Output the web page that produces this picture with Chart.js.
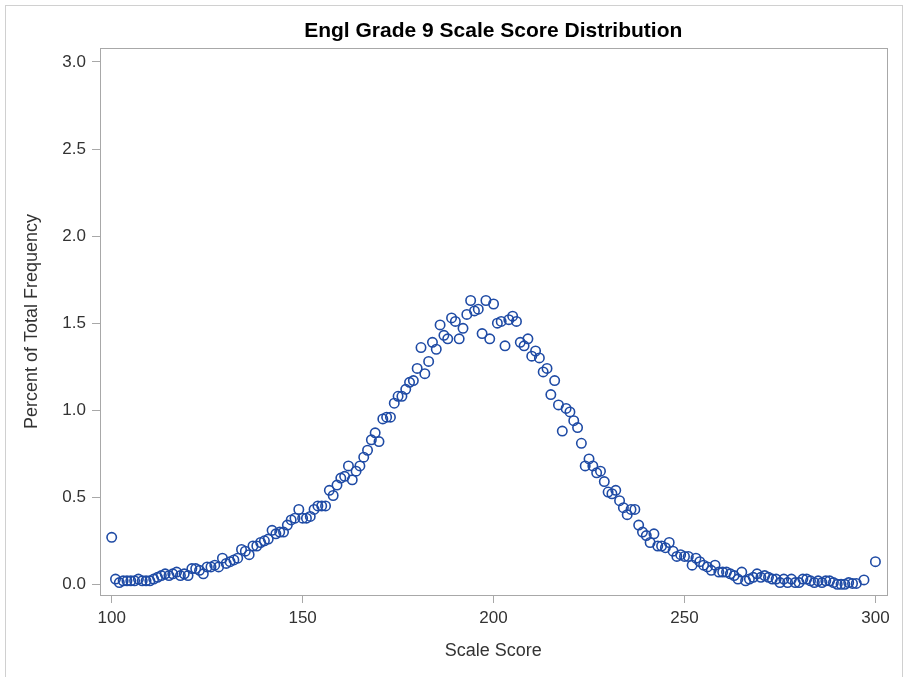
<!DOCTYPE html>
<html>
<head>
<meta charset="utf-8">
<title>Engl Grade 9 Scale Score Distribution</title>
<script src="https://cdn.jsdelivr.net/npm/chart.js@4.4.1/dist/chart.umd.min.js"></script>
<style>
  html, body { margin: 0; padding: 0; background: #fff; overflow: hidden; }
  #frame {
    position: absolute; left: 5px; top: 5px; width: 898px; height: 700px;
    border: 1px solid #d0d0d0; box-sizing: border-box;
  }
  #chart { position: absolute; left: 0; top: 0; }
</style>
</head>
<body>
<div id="frame"></div>
<canvas id="chart" width="906" height="677"></canvas>
<script>
const scores = [
  100, 101, 102, 103, 104, 105, 106, 107, 108, 109,
  110, 111, 112, 113, 114, 115, 116, 117, 118, 119,
  120, 121, 122, 123, 124, 125, 126, 127, 128, 129,
  130, 131, 132, 133, 134, 135, 136, 137, 138, 139,
  140, 141, 142, 143, 144, 145, 146, 147, 148, 149,
  150, 151, 152, 153, 154, 155, 156, 157, 158, 159,
  160, 161, 162, 163, 164, 165, 166, 167, 168, 169,
  170, 171, 172, 173, 174, 175, 176, 177, 178, 179,
  180, 181, 182, 183, 184, 185, 186, 187, 188, 189,
  190, 191, 192, 193, 194, 195, 196, 197, 198, 199,
  200, 201, 202, 203, 204, 205, 206, 207, 208, 209,
  210, 211, 212, 213, 214, 215, 216, 217, 218, 219,
  220, 221, 222, 223, 224, 225, 226, 227, 228, 229,
  230, 231, 232, 233, 234, 235, 236, 237, 238, 239,
  240, 241, 242, 243, 244, 245, 246, 247, 248, 249,
  250, 251, 252, 253, 254, 255, 256, 257, 258, 259,
  260, 261, 262, 263, 264, 265, 266, 267, 268, 269,
  270, 271, 272, 273, 274, 275, 276, 277, 278, 279,
  280, 281, 282, 283, 284, 285, 286, 287, 288, 289,
  290, 291, 292, 293, 294, 295, 297, 300
];

// percent of total frequency, same order as scores
const percents = [
  0.27, 0.03, 0.01, 0.02, 0.02, 0.02, 0.02, 0.03, 0.02, 0.02,
  0.02, 0.03, 0.04, 0.05, 0.06, 0.05, 0.06, 0.07, 0.05, 0.06,
  0.05, 0.09, 0.09, 0.08, 0.06, 0.10, 0.10, 0.11, 0.10, 0.15,
  0.12, 0.13, 0.14, 0.15, 0.20, 0.19, 0.17, 0.22, 0.22, 0.24,
  0.25, 0.26, 0.31, 0.29, 0.30, 0.30, 0.34, 0.37, 0.38, 0.43,
  0.38, 0.38, 0.39, 0.43, 0.45, 0.45, 0.45, 0.54, 0.51, 0.57,
  0.61, 0.62, 0.68, 0.60, 0.65, 0.68, 0.73, 0.77, 0.83, 0.87,
  0.82, 0.95, 0.96, 0.96, 1.04, 1.08, 1.08, 1.12, 1.16, 1.17,
  1.24, 1.36, 1.21, 1.28, 1.39, 1.35, 1.49, 1.43, 1.41, 1.53,
  1.51, 1.41, 1.47, 1.55, 1.63, 1.57, 1.58, 1.44, 1.63, 1.41,
  1.61, 1.50, 1.51, 1.37, 1.52, 1.54, 1.51, 1.39, 1.37, 1.41,
  1.31, 1.34, 1.30, 1.22, 1.24, 1.09, 1.17, 1.03, 0.88, 1.01,
  0.99, 0.94, 0.90, 0.81, 0.68, 0.72, 0.68, 0.64, 0.65, 0.59,
  0.53, 0.52, 0.54, 0.48, 0.44, 0.40, 0.43, 0.43, 0.34, 0.30,
  0.28, 0.24, 0.29, 0.22, 0.22, 0.21, 0.24, 0.19, 0.16, 0.17,
  0.16, 0.16, 0.11, 0.15, 0.13, 0.11, 0.10, 0.08, 0.11, 0.07,
  0.07, 0.07, 0.06, 0.05, 0.03, 0.07, 0.02, 0.03, 0.04, 0.06,
  0.04, 0.05, 0.04, 0.03, 0.03, 0.01, 0.03, 0.01, 0.03, 0.01,
  0.01, 0.03, 0.03, 0.02, 0.01, 0.02, 0.01, 0.02, 0.02, 0.01,
  0.00, 0.00, 0.00, 0.01, 0.005, 0.005, 0.025, 0.13
];

const xTicks = [100, 150, 200, 250, 300];
const yTicks = [0.0, 0.5, 1.0, 1.5, 2.0, 2.5, 3.0];

const FONT = "'Liberation Sans', Arial, sans-serif";
const markerColor = "#1f4ba5";
const axisColor = "#a8a8a8";
const textColor = "#333333";

const points = scores.map((s, i) => ({ x: s, y: percents[i] }));

// SAS style: a full box round the plot area
const boxPlugin = {
  id: "plotBox",
  afterDraw(chart) {
    const { ctx, chartArea } = chart;
    ctx.save();
    ctx.strokeStyle = axisColor;
    ctx.lineWidth = 1;
    ctx.strokeRect(
      Math.round(chartArea.left) + 0.5,
      Math.round(chartArea.top) + 0.5,
      Math.round(chartArea.right - chartArea.left),
      Math.round(chartArea.bottom - chartArea.top)
    );
    ctx.restore();
  }
};

new Chart(document.getElementById("chart"), {
  type: "scatter",
  data: {
    datasets: [
      {
        label: "Percent",
        data: points,
        pointStyle: "circle",
        pointRadius: 4.7,
        pointBorderWidth: 1.6,
        pointBorderColor: markerColor,
        pointBackgroundColor: "rgba(0,0,0,0)"
      }
    ]
  },
  options: {
    responsive: false,
    animation: false,
    events: [],
    layout: { padding: { left: 0, right: 19.5, top: 0, bottom: 0 } },
    plugins: {
      legend: { display: false },
      tooltip: { enabled: false },
      title: {
        display: true,
        text: "Engl Grade 9 Scale Score Distribution",
        fullSize: false,
        color: "#000",
        font: { family: FONT, size: 21, weight: "bold" },
        padding: { top: 19, bottom: 3.8 }
      }
    },
    scales: {
      x: {
        type: "linear",
        min: 96.94,
        max: 302.9,
        afterFit: (scale) => { scale.height = 82; },
        afterBuildTicks: (scale) => { scale.ticks = xTicks.map((v) => ({ value: v })); },
        grid: { drawOnChartArea: false, drawTicks: true, tickLength: 8, color: axisColor },
        border: { display: false },
        ticks: {
          color: textColor,
          padding: 5,
          maxRotation: 0,
          font: { family: FONT, size: 17 },
          callback: (v) => String(v)
        },
        title: {
          display: true,
          text: "Scale Score",
          color: textColor,
          font: { family: FONT, size: 18 },
          padding: { top: 0, bottom: 15 }
        }
      },
      y: {
        type: "linear",
        min: -0.0615,
        max: 3.0804,
        afterFit: (scale) => { scale.width = 100; },
        afterBuildTicks: (scale) => { scale.ticks = yTicks.map((v) => ({ value: v })); },
        grid: { drawOnChartArea: false, drawTicks: true, tickLength: 8, color: axisColor },
        border: { display: false },
        ticks: {
          color: textColor,
          padding: 6,
          font: { family: FONT, size: 17 },
          callback: (v) => Number(v).toFixed(1)
        },
        title: {
          display: true,
          text: "Percent of Total Frequency",
          color: textColor,
          font: { family: FONT, size: 18 },
          padding: { top: 21, bottom: 0 }
        }
      }
    }
  },
  plugins: [boxPlugin]
});
</script>
</body>
</html>
